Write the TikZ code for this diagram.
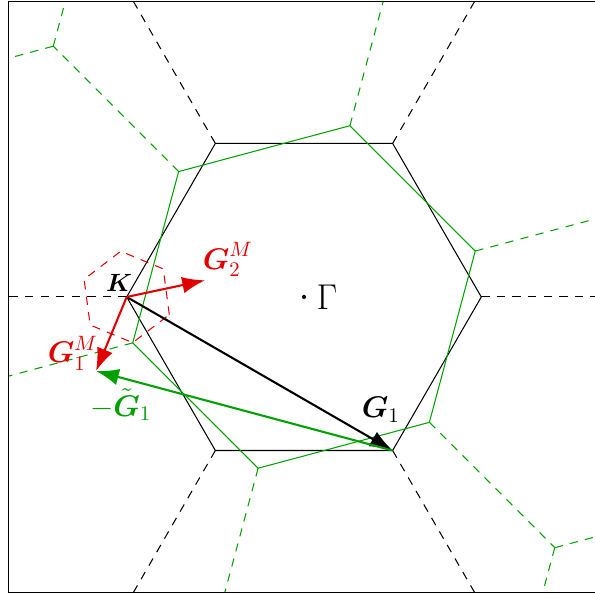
\documentclass[tikz,border=0pt]{standalone}
\usepackage{amsmath, amssymb}
\usepackage{tikz}
\usetikzlibrary{calc, arrows.meta}
\usepackage{xcolor}
\definecolor{layerA}{RGB}{0, 0, 0}
\definecolor{layerB}{RGB}{0, 160, 0}
\definecolor{moire}{RGB}{225, 0, 0}
\newcommand{\hexcell}[2][]{\draw[#1] (0:#2) -- (60:#2) -- (120:#2) -- (180:#2) -- (240:#2) -- (300:#2) -- cycle;}
\newcommand{\bv}[1]{\boldsymbol{#1}}

\tikzset{
  bzline/.style={line width=0.5pt},
  bzdash/.style={line width=0.5pt, dash pattern=on 4pt off 3.5pt},
  recvec/.style={line width=1pt, -{Latex[length=11pt,width=8pt]}},
  veclabel/.style={font=\Large, inner sep=0.5pt},
}

\begin{document}
\begin{tikzpicture}
  \useasboundingbox (-5.144,-5.042) rectangle (4.924,5.025);

  % --- neighbouring Brillouin zones (dashed) ---
  \begin{scope}
    \clip (-5,-5) rectangle (5,5);
    % layer A: only the outgoing edges reach the frame
    \foreach \a in {0,60,...,300}
      \draw[bzdash, layerA] (\a:3) -- (\a:6);
    % layer B (rotated by 15 degrees)
    \foreach \a in {15,75,...,315} {
      \draw[bzdash, layerB] (\a:3) -- (\a:6);
      \draw[bzdash, layerB] (\a:6) -- ++(\a+60:3);
      \draw[bzdash, layerB] (\a:6) -- ++(\a-60:3);
    }
  \end{scope}

  % --- first Brillouin zones of the two layers ---
  \hexcell[bzline, layerA]{3}
  \begin{scope}[rotate=15]
    \hexcell[bzline, layerB]{3}
  \end{scope}

  % --- points ---
  \coordinate (Gam) at (0,0);
  \coordinate (K) at (180:3);
  \coordinate (G1end) at (-60:3);
  \coordinate (G1M) at ($(K)+(-0.519,-1.253)$);
  \coordinate (G2M) at ($(K)+(12:1.356)$);

  % --- moire Brillouin zone around K ---
  \begin{scope}[shift={(K)}, rotate=-22.5]
    \hexcell[bzdash, moire]{0.78}
  \end{scope}

  % --- reciprocal vectors ---
  \draw[recvec, layerA] (K) -- (G1end);
  \draw[recvec, layerB] (G1end) -- (G1M);
  \draw[recvec, moire] (K) -- (G1M);
  \draw[recvec, moire] (K) -- (G2M);

  % --- labels ---
  \fill (Gam) circle (1pt);
  \node[font=\LARGE] (lGam) at (0.39,0) {$\Gamma$};
  \node[font=\large, inner sep=0.5pt] (lK) at (-3.13,0.24) {$\bv{K}$};
  \node[veclabel, layerA] (lG1) at (1.30,-1.91) {$\bv{G}_1$};
  \node[veclabel, layerB] (lGt1) at (-3.10,-1.82) {$-\tilde{\bv{G}}_1$};
  \node[veclabel, moire] (lG1M) at (-3.91,-0.95) {$\bv{G}_1^M$};
  \node[veclabel, moire] (lG2M) at (-1.29,0.63) {$\bv{G}_2^M$};

  % --- frame ---
  \draw[thick] (-5,-5) rectangle (5,5);
\end{tikzpicture}
\end{document}
